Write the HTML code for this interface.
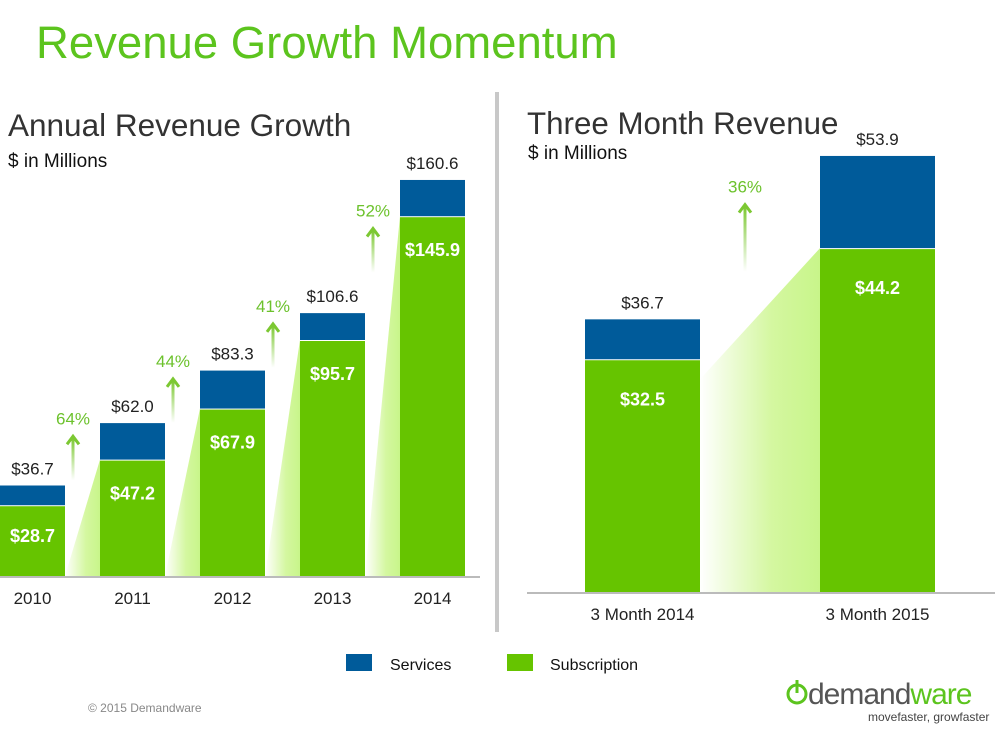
<!DOCTYPE html>
<html><head><meta charset="utf-8"><style>
body{margin:0;background:#fff;width:1000px;height:731px;overflow:hidden;font-family:"Liberation Sans",Arial,sans-serif}
svg text{font-family:"Liberation Sans",Arial,sans-serif}
</style></head><body>
<svg id="c" width="1000" height="731">
<defs>
<linearGradient id="wg" x1="0" y1="0" x2="1" y2="0"><stop offset="0" stop-color="#fff"/><stop offset="0.6" stop-color="#d4f7a0"/><stop offset="1" stop-color="#c8f58a"/></linearGradient>
<linearGradient id="ag" x1="0" y1="1" x2="0" y2="0"><stop offset="0" stop-color="#7cc832" stop-opacity="0"/><stop offset="1" stop-color="#7cc832"/></linearGradient>
</defs>
<text x="36" y="58" font-size="45.5" fill="#5cc41e">Revenue Growth Momentum</text>
<text x="8" y="136" font-size="31.5" fill="#333">Annual Revenue Growth</text>
<text x="8" y="167" font-size="19" fill="#111">$ in Millions</text>
<text x="527" y="134" font-size="31.3" fill="#333">Three Month Revenue</text>
<text x="528" y="159" font-size="19" fill="#111">$ in Millions</text>
<rect x="495" y="92" width="4" height="540" fill="#c8c8c8"/>
<g id="left"></g><g id="right"></g>
<rect x="346" y="654" width="26" height="17" fill="#005b9a"/>
<text x="390" y="670" font-size="16" fill="#111">Services</text>
<rect x="507" y="654" width="26" height="17" fill="#66c400"/>
<text x="550" y="670" font-size="16" fill="#111">Subscription</text>
<text x="88" y="712" font-size="12" fill="#888">© 2015 Demandware</text>
<g>
<circle cx="797" cy="694" r="9" fill="none" stroke="#5cc41e" stroke-width="3"/>
<rect x="795.5" y="680" width="3" height="13" fill="#5cc41e"/>
<text x="808" y="704" font-size="30" fill="#555" letter-spacing="-1">demand<tspan fill="#5cc41e">ware</tspan></text>
<text x="868" y="721" font-size="12" fill="#444" font-family="Liberation Serif">movefaster, growfaster</text>
</g>
</svg>
<script>
const years=["2010","2011","2012","2013","2014"];
const subscription=[28.7,47.2,67.9,95.7,145.9];
const totals=[36.7,62.0,83.3,106.6,160.6];
const growth=["64%","44%","41%","52%"];
const qCats=["3 Month 2014","3 Month 2015"];
const qSub=[32.5,44.2];
const qTot=[36.7,53.9];
const qGrowth=["36%"];
const NS="http://www.w3.org/2000/svg";
function el(p,t,a,txt){const e=document.createElementNS(NS,t);for(const k in a)e.setAttribute(k,a[k]);if(txt!=null)e.textContent=txt;p.appendChild(e);return e;}
function draw(g,cats,sub,tot,gr,o){
 const y=v=>o.base-(v-o.v0)*o.k, x=i=>o.x0+i*o.step;
 for(let i=1;i<cats.length;i++){
  const w=el(g,"polygon",{points:`${x(i-1)+o.bw},${o.base} ${x(i-1)+o.bw},${o.wedge?y(sub[i-1])+20:o.base} ${x(i)},${y(sub[i])} ${x(i)},${o.base}`,fill:"url(#wg)"});
  
  
 }
 el(g,"line",{x1:o.ax0,x2:o.ax1,y1:o.base+1,y2:o.base+1,stroke:"#bbb","stroke-width":2});
 cats.forEach((c,i)=>{
  const s=el(g,"rect",{x:x(i),y:y(tot[i]),width:o.bw,height:(tot[i]-sub[i])*o.k,fill:"#005b9a"});
  
  
  const b=el(g,"rect",{x:x(i),y:y(sub[i])+1,width:o.bw,height:o.base-y(sub[i])-1,fill:"#66c400"});
  
  
  const t=el(g,"text",{x:x(i)+o.bw/2,y:y(tot[i])-11,"font-size":17,fill:"#222","text-anchor":"middle"},"$"+tot[i].toFixed(1));
  
  
  const ts=el(g,"text",{x:x(i)+o.bw/2,y:Math.min(y(sub[i])+o.sOff,o.base-34),"font-size":18,"font-weight":"bold",fill:"#fff","text-anchor":"middle"},"$"+sub[i].toFixed(1));
  
  
  const xl=el(g,"text",{x:x(i)+o.bw/2,y:o.base+28,"font-size":17,fill:"#222","text-anchor":"middle"},c);
  
  
 });
 gr.forEach((p,i)=>{
  const ax=x(i)+o.bw+o.arrDx, lab=(y(tot[i])+y(tot[i+1]))/2+o.labOff, top=lab+12;
  const a=el(g,"g",{});
  
  
  el(a,"rect",{x:ax-1.5,y:top+2,width:3,height:o.arrLen,fill:"url(#ag)"});
  el(a,"polyline",{points:`${ax-6},${top+8} ${ax},${top} ${ax+6},${top+8}`,fill:"none",stroke:"#7cc832","stroke-width":3});
  const pt=el(g,"text",{x:ax,y:lab,"font-size":17,fill:"#6cc22c","text-anchor":"middle"},p);
  
  
 });
}
draw(document.getElementById('left'),years,subscription,totals,growth,{base:576,v0:0,k:2.466,x0:0,step:100,bw:65,ax0:0,ax1:480,sOff:40,arrDx:8,labOff:-30,arrLen:42,wedge:false});
draw(document.getElementById('right'),qCats,qSub,qTot,qGrowth,{base:592,v0:8,k:9.5,x0:585,step:235,bw:115,ax0:527,ax1:995,sOff:46,arrDx:45,labOff:-45,arrLen:65,wedge:true});
</script>
</body></html>
